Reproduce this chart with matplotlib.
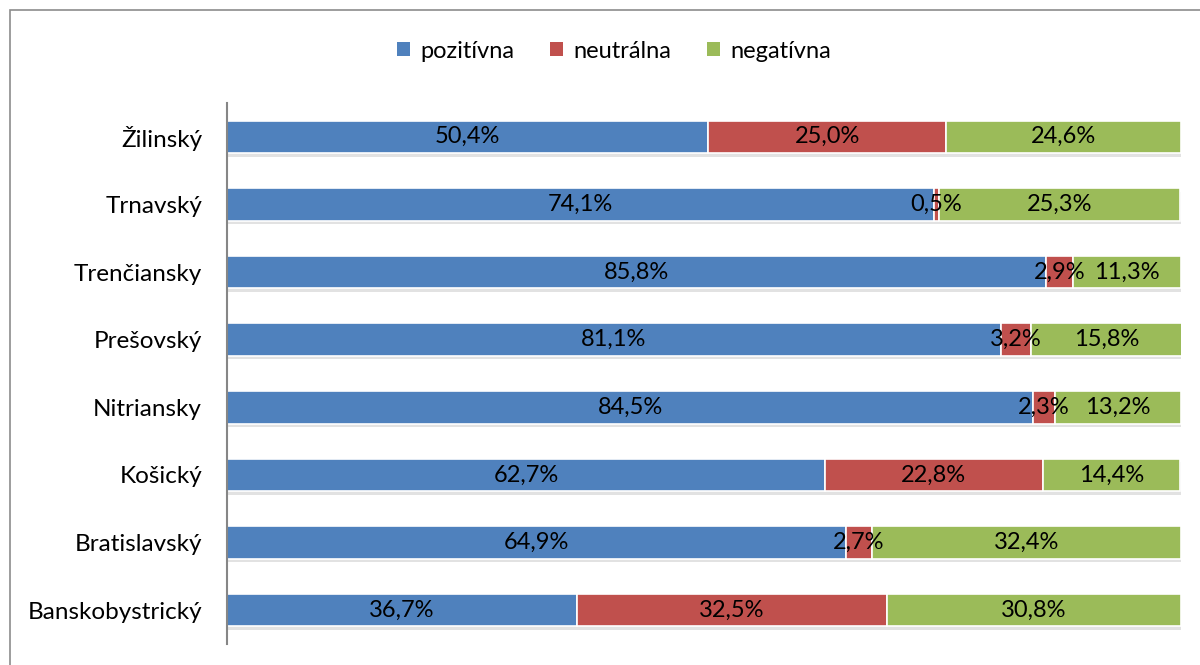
import numpy as np
import matplotlib
matplotlib.use("Agg")
import matplotlib.pyplot as plt
from matplotlib import patheffects as pe
from matplotlib.patches import Rectangle, Patch

# kraje zhora nadol
KRAJE = ["Žilinský", "Trnavský", "Trenčiansky", "Prešovský",
         "Nitriansky", "Košický", "Bratislavský", "Banskobystrický"]
POZITIVNA = [50.4, 74.1, 85.8, 81.1, 84.5, 62.7, 64.9, 36.7]
NEUTRALNA = [25.0, 0.5, 2.9, 3.2, 2.3, 22.8, 2.7, 32.5]
NEGATIVNA = [24.6, 25.3, 11.3, 15.8, 13.2, 14.4, 32.4, 30.8]

SERIES = [("pozitívna", POZITIVNA, "#4F81BD"),
          ("neutrálna", NEUTRALNA, "#C0504D"),
          ("negatívna", NEGATIVNA, "#9BBB59")]

plt.rcParams["font.family"] = ["Lato", "DejaVu Sans"]
FS = 17

fig = plt.figure(figsize=(12, 6.65), dpi=100)
# ramik grafu (vpravo a dole orezany)
fig.patches.append(Rectangle((10 / 1200, -0.05), 1.2, 1.05 - 10 / 665,
                             transform=fig.transFigure, fill=False,
                             edgecolor="#8c8c8c", linewidth=1.2))

ax = fig.add_axes([227 / 1200, 1 - 644 / 665, 954 / 1200, 541 / 665])

y = np.arange(len(KRAJE))[::-1]
left = np.zeros(len(KRAJE))
shadow = [pe.SimplePatchShadow(offset=(0.5, -2.5), shadow_rgbFace="#c0c0c0", alpha=0.45),
          pe.Normal()]
for name, vals, col in SERIES:
    vals = np.array(vals)
    bars = ax.barh(y, vals, left=left, height=0.48, color=col,
                   edgecolor="white", linewidth=1.2)
    for b in bars:
        b.set_path_effects(shadow)
    for yi, l, v in zip(y, left, vals):
        ax.text(l + v / 2, yi, f"{v:.1f}%".replace(".", ","),
                ha="center", va="center", fontsize=FS, color="black")
    left += vals

ax.set_xlim(0, 100)
ax.set_ylim(-0.5, len(KRAJE) - 0.5)
ax.set_yticks(y)
ax.set_yticklabels(KRAJE, fontsize=17.5)
ax.tick_params(axis="y", length=0, pad=18)
ax.set_xticks([])
for s in ["top", "right", "bottom"]:
    ax.spines[s].set_visible(False)
ax.spines["left"].set_color("#868686")
ax.spines["left"].set_linewidth(1.5)

handles = [Patch(facecolor=c, edgecolor="none", label=n) for n, _, c in SERIES]
fig.legend(handles=handles, loc="center", bbox_to_anchor=(614 / 1200, 1 - 51 / 665),
           ncol=3, frameon=False, fontsize=FS, handlelength=0.55, handleheight=0.55,
           handletextpad=0.45, columnspacing=1.5)

fig.savefig("out.png", dpi=100)
